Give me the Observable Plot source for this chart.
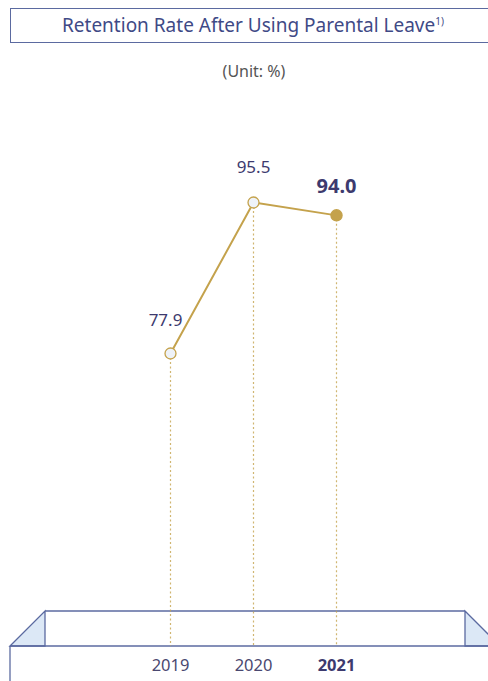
<!DOCTYPE html>
<html><head><meta charset="utf-8">
<script src="https://cdn.jsdelivr.net/npm/d3@7"></script>
<script src="https://cdn.jsdelivr.net/npm/@observablehq/plot@0.6"></script>
<style>
body{margin:0;background:#fff;font-family:"Noto Sans",sans-serif;}
#wrap{position:relative;width:488px;height:681px;overflow:hidden;}
#title{position:absolute;left:10px;top:8px;width:500px;height:35px;border:1px solid #5b6aa0;box-sizing:border-box;}
#title span{position:absolute;left:0;width:484px;text-align:center;top:3px;font-size:19px;color:#3f4a86;}
#title sup{font-size:10px;}
#unit{position:absolute;top:60px;left:0;width:508px;text-align:center;font-size:16px;color:#555;}
#chart{position:absolute;left:0;top:0;}
</style></head>
<body><div id="wrap">
<div id="chart"></div>
<div id="title"><span>Retention Rate After Using Parental Leave<sup>1)</sup></span></div>
<div id="unit">(Unit: %)</div>
</div>
<script>
const years = ["2019","2020","2021"];
const rates = [77.9, 95.5, 94.0];
const data = years.map((y,i)=>({year:y, rate:rates[i], latest: i===years.length-1}));

const gold = "#c4a24c";
const ink = "#3d3a6e";
const yScaleOpts = {domain:[77.9,95.5], range:[353,202]};
const ys = Plot.scale({y: yScaleOpts});
const floor = ys.invert(646);

const plot = Plot.plot({
  width:488, height:681,
  marginTop:0, marginRight:0, marginBottom:35, marginLeft:0,
  x:{type:"point", domain:years, range:[170,336], padding:0, axis:null},
  y:{...yScaleOpts, axis:null},
  marks:[
    Plot.ruleX(data, {x:"year", y1:"rate", y2:floor, stroke:gold, strokeOpacity:0.8, strokeWidth:1.2, strokeDasharray:"2,2.5"}),
    Plot.line(data, {x:"year", y:"rate", stroke:gold, strokeWidth:2}),
    Plot.dot(data.filter(d=>!d.latest), {x:"year", y:"rate", r:5.5, fill:"#eef2f8", stroke:gold, strokeWidth:1.3}),
    Plot.dot(data.filter(d=>d.latest), {x:"year", y:"rate", r:5.5, fill:gold, stroke:gold}),
    Plot.text(data.filter((d,i)=>i===0), {x:"year", y:"rate", text:d=>d.rate.toFixed(1), dx:-5, dy:-33, fontSize:17, fill:ink, fontFamily:"Noto Sans"}),
    Plot.text(data.filter((d,i)=>i>0 && !d.latest), {x:"year", y:"rate", text:d=>d.rate.toFixed(1), dy:-35, fontSize:17, fill:ink, fontFamily:"Noto Sans"}),
    Plot.text(data.filter(d=>d.latest), {x:"year", y:"rate", text:d=>d.rate.toFixed(1), dy:-29, fontSize:20, fontWeight:"bold", fill:ink, fontFamily:"Noto Sans"}),
    Plot.text(data.filter(d=>!d.latest), {x:"year", frameAnchor:"bottom", text:"year", dy:24, fontSize:16.5, fill:"#4a4870", fontFamily:"Noto Sans"}),
    Plot.text(data.filter(d=>d.latest), {x:"year", frameAnchor:"bottom", text:"year", dy:24, fontSize:16.5, fontWeight:"bold", fill:ink, fontFamily:"Noto Sans"})
  ]
});
document.getElementById("chart").appendChild(plot);

// decorative platform
const svg = d3.select(plot);
const g = svg.insert("g", ":first-child");
const edge = "#5b6aa0";
g.append("path").attr("d","M10,646 L45,611 L45,646 Z").attr("fill","#dce8f6").attr("stroke",edge).attr("stroke-width",1.3);
g.append("path").attr("d","M465,611 L500,646 L465,646 Z").attr("fill","#dce8f6").attr("stroke",edge).attr("stroke-width",1.3);
g.append("path").attr("d","M45,611 L465,611").attr("stroke",edge).attr("stroke-width",1.3).attr("fill","none");
g.append("path").attr("d","M10,646 L500,646").attr("stroke",edge).attr("stroke-width",1.3).attr("fill","none");
g.append("path").attr("d","M10,646 L10,690").attr("stroke",edge).attr("stroke-width",1.3).attr("fill","none");
</script>
</body></html>
